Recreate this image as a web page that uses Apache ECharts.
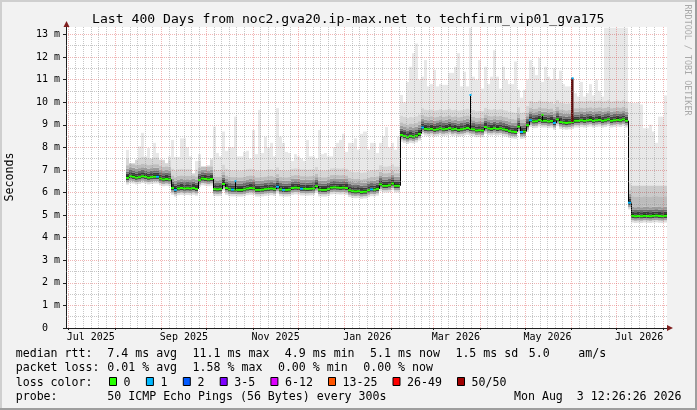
<!DOCTYPE html>
<html><head><meta charset="utf-8">
<script src="https://cdn.jsdelivr.net/npm/echarts@6/dist/echarts.min.js"></script>
<style>html,body{margin:0;padding:0;background:#f2f2f2}#c{width:697px;height:410px}</style>
</head><body><div id="c"></div>
<script>
// ---------- data ----------
const titleText = 'Last 400 Days from noc2.gva20.ip-max.net to techfirm_vip01_gva175';
const startUTC = Date.UTC(2025, 5, 29, 12, 26, 26);   // 400 days before Mon Aug 3 12:26:26 2026
const rangeDays = 400;
const binStartDay = 40;     // first sample bin (days after start)
const binDays = 2;          // bin width in days

// median rtt per 2-day bin (ms)
const medianMs = [
  6.65, 6.72, 6.70, 6.66, 6.68, 6.72, 6.70, 6.66, 6.68, 6.70,
  6.70, 6.62, 6.58, 6.60, 6.58, 6.20, 6.12, 6.18, 6.20, 6.18,
  6.19, 6.18, 6.20, 6.16, 6.55, 6.62, 6.60, 6.58, 6.60, 6.15,
  6.14, 6.15, 6.38, 6.20, 6.14, 6.13, 6.13, 6.12, 6.12, 6.14,
  6.18, 6.20, 6.19, 6.12, 6.12, 6.13, 6.15, 6.17, 6.18, 6.15,
  6.26, 6.14, 6.12, 6.12, 6.13, 6.20, 6.22, 6.21, 6.17, 6.17,
  6.16, 6.17, 6.18, 6.28, 6.13, 6.12, 6.12, 6.15, 6.22, 6.23,
  6.22, 6.21, 6.22, 6.20, 6.10, 6.06, 6.05, 6.06, 6.02, 6.04,
  6.10, 6.14, 6.13, 6.16, 6.36, 6.30, 6.30, 6.32, 6.40, 6.30,
  6.30, 8.55, 8.50, 8.45, 8.50, 8.48, 8.52, 8.60, 8.88, 8.82,
  8.80, 8.82, 8.78, 8.80, 8.84, 8.80, 8.82, 8.86, 8.80, 8.82,
  8.78, 8.80, 8.83, 8.86, 8.82, 8.80, 8.75, 8.76, 8.75, 8.90,
  8.84, 8.82, 8.85, 8.82, 8.84, 8.80, 8.78, 8.72, 8.70, 8.68,
  8.92, 8.68, 8.70, 8.98, 9.20, 9.15, 9.16, 9.22, 9.18, 9.18,
  9.15, 9.17, 9.08, 9.24, 9.12, 9.10, 9.08, 9.10, 9.12, 9.18,
  9.18, 9.20, 9.18, 9.20, 9.22, 9.18, 9.20, 9.22, 9.18, 9.20,
  9.24, 9.18, 9.20, 9.22, 9.20, 9.24, 9.18, 5.55, 4.97, 4.95,
  4.96, 4.95, 4.97, 4.96, 4.95, 4.97, 4.98, 4.96, 4.95, 4.97
];
// top of the ping smoke per bin (ms)
const smokeTopMs = [
  7.89, 7.30, 7.30, 7.45, 8.04, 8.64, 7.60, 7.97, 7.50, 8.20,
  7.75, 7.45, 7.45, 7.30, 7.60, 8.33, 7.58, 7.58, 8.40, 8.40,
  8.00, 7.60, 6.85, 7.40, 7.70, 7.15, 7.15, 7.20, 7.50, 8.92,
  7.75, 7.60, 8.70, 7.85, 8.00, 8.00, 9.36, 7.60, 7.60, 7.80,
  7.85, 7.50, 8.77, 7.70, 9.66, 7.75, 8.47, 8.00, 8.20, 7.60,
  9.74, 8.47, 8.20, 7.80, 7.75, 7.40, 7.70, 7.60, 7.50, 7.40,
  8.33, 7.60, 7.60, 7.50, 8.77, 7.70, 7.75, 7.60, 7.60, 8.00,
  8.20, 8.33, 8.60, 7.80, 8.20, 8.20, 8.40, 7.90, 8.60, 8.70,
  7.90, 8.20, 8.20, 7.75, 8.20, 8.48, 8.90, 8.00, 8.20, 7.90,
  8.48, 10.32, 10.00, 10.90, 11.57, 12.17, 12.60, 11.00, 11.13, 11.87,
  10.70, 10.80, 11.43, 10.70, 10.80, 10.77, 10.77, 11.30, 11.30, 11.57,
  12.17, 10.70, 11.35, 10.70, 13.30, 11.13, 11.00, 11.87, 10.60, 11.57,
  10.80, 11.13, 12.30, 11.13, 10.60, 11.57, 11.00, 10.80, 10.80, 11.80,
  10.55, 10.20, 10.55, 11.00, 11.87, 11.57, 11.20, 11.96, 10.90, 11.57,
  11.13, 11.00, 11.50, 11.00, 11.40, 10.80, 10.70, 10.70, 11.10, 10.40,
  10.25, 10.90, 10.25, 10.40, 10.80, 10.30, 11.00, 10.50, 10.25, 13.30,
  13.30, 13.30, 13.30, 13.30, 13.30, 13.30, 13.30, 10.00, 9.97, 9.97,
  10.00, 9.90, 8.85, 8.85, 9.00, 8.70, 8.20, 9.36, 9.36, 10.30
];
// bins where the denser (medium) smoke reaches higher: [firstBin, lastBin, topMs]
const denseSmokeSegments = [[168, 179, 6.30]];
// bins whose median was drawn with loss class "1"
const loss1Bins = [10, 16, 35, 50, 52, 58, 81, 98, 131, 134, 142, 167];
// short median spikes inside a bin
const spikeBins = [36, 114, 138, 148];
const spikeMs   = [6.50, 10.32, 9.44, 11.06];
const spikeDotLoss = [1, 1, 0, 1];
const spikeColLoss = [-1, -1, -1, 7];

const lossColors = ['#26ff00', '#00b8ff', '#0059ff', '#7e00ff', '#dd00ff', '#ff5500', '#ff0000', '#a00000'];
const lossLabels = ['0', '1', '2', '3-5', '6-12', '13-25', '26-49', '50/50'];

const xLabelMonths = [[2025, 6], [2025, 8], [2025, 10], [2026, 0], [2026, 2], [2026, 4], [2026, 6]];
const xLabelTexts  = ['Jul 2025', 'Sep 2025', 'Nov 2025', 'Jan 2026', 'Mar 2026', 'May 2026', 'Jul 2026'];

const statLine1 = [['median rtt:', 15.7], ['7.4 ms avg', 107.3], ['11.1 ms max', 192.6], ['4.9 ms min', 284.8], ['5.1 ms now', 370.1], ['1.5 ms sd', 455.4], ['5.0', 528.8], ['am/s', 578.3]];
const statLine2 = [['packet loss:', 15.7], ['0.01 % avg', 107.3], ['1.58 % max', 192.6], ['0.00 % min', 277.9], ['0.00 % now', 363.2]];
const probeText = '50 ICMP Echo Pings (56 Bytes) every 300s';
const dateText = 'Mon Aug  3 12:26:26 2026';

// ---------- derived helpers ----------
const MONO = 'DejaVu Sans Mono';
const DAY = 864e5;
const dayOf = (y, m, d) => (Date.UTC(y, m, d) - startUTC) / DAY;
const monthDays = [];
const minorDays = [];
for (let k = 0; k <= 14; k++) {
  const d = dayOf(2025, 5 + k, 1);
  if (d > 0 && d < rangeDays) monthDays.push(d);
  for (const dd of [6, 11, 16, 21, 26]) {
    const e = dayOf(2025, 5 + k, dd);
    if (e > 0 && e < rangeDays) minorDays.push(e);
  }
}
const labelDays = xLabelMonths.map(([y, m]) => dayOf(y, m, 16));
const lossClass = medianMs.map((_, i) => loss1Bins.includes(i) ? 1 : 0);
const denseTop = medianMs.map((_, i) => { const s = denseSmokeSegments.find(([a, b]) => i >= a && i <= b); return s ? s[2] : -1; });
const binData = medianMs.map((m, i) => [binStartDay + binDays * i, m, smokeTopMs[i], lossClass[i], i > 0 ? medianMs[i - 1] : -1, spikeBins.indexOf(i), denseTop[i]]);

const GRID_C = 'rgba(143,143,143,0.5)';
const MGRID_C = 'rgba(222,79,79,0.42)';

const smokeBands = [
  [-0.30, -0.20, '#dedede'],
  [-0.20, -0.10, '#a4a4a4'],
  [-0.10, 0.00, '#444444'],
  [0.00, 0.08, '#141414'],
  [0.08, 0.18, '#3c3c3c'],
  [0.18, 0.28, '#6c6c6c'],
  [0.28, 0.40, '#9c9c9c'],
  [0.40, 0.55, '#bebebe'],
  [0.55, 0.85, 'rgba(0,0,0,0.16)'],
  [0.85, 99, 'rgba(0,0,0,0.09)']
];

function renderSmoke(params, api) {
  const d0 = api.value(0), med = api.value(1), hi = api.value(2), dense = api.value(6);
  const x0 = Math.round(api.coord([d0, 0])[0]);
  const x1 = Math.round(api.coord([d0 + binDays, 0])[0]);
  const Y = v => api.coord([d0, v])[1];
  const children = [];
  const rect = (lo, top, col) => {
    if (top <= lo) return;
    const yt = Y(top), yb = Y(lo);
    children.push({ type: 'rect', shape: { x: x0, y: yt, width: x1 - x0, height: yb - yt }, style: { fill: col } });
  };
  for (const [a, b, col] of smokeBands) {
    let top = med + b;
    if (a >= 0) top = Math.min(top, hi);
    rect(med + a, top, col);
  }
  if (dense > 0) rect(med + 0.55, Math.min(dense, hi), 'rgba(0,0,0,0.12)');
  return { type: 'group', children };
}

function renderMedian(params, api) {
  const d0 = api.value(0), med = api.value(1), loss = api.value(3), prev = api.value(4), sp = api.value(5);
  const x0 = Math.round(api.coord([d0, 0])[0]);
  const x1 = Math.round(api.coord([d0 + binDays, 0])[0]);
  const Y = v => api.coord([d0, v])[1];
  const y = Y(med);
  const children = [];
  if (prev > 0 && Math.abs(prev - med) > 0.03) {
    children.push({ type: 'line', shape: { x1: x0 + 0.5, y1: Y(prev), x2: x0 + 0.5, y2: y }, style: { stroke: '#000', lineWidth: 1 } });
  }
  children.push({ type: 'rect', shape: { x: x0, y: y - 1, width: x1 - x0, height: 2 }, style: { fill: lossColors[loss] } });
  if (sp >= 0) {
    const ys = Y(spikeMs[sp]);
    const xc = x0 + 1;
    if (spikeColLoss[sp] >= 0) {
      children.push({ type: 'rect', shape: { x: xc - 1, y: ys, width: 2.5, height: y - ys }, style: { fill: '#5c1212' } });
    } else {
      children.push({ type: 'line', shape: { x1: xc + 0.5, y1: y, x2: xc + 0.5, y2: ys }, style: { stroke: '#000', lineWidth: 1 } });
    }
    children.push({ type: 'rect', shape: { x: xc - 0.5, y: ys - 1, width: 2, height: 2 }, style: { fill: lossColors[spikeDotLoss[sp]] } });
  }
  return { type: 'group', children };
}

// ---------- chart ----------
const chart = echarts.init(document.getElementById('c'), null, { renderer: 'canvas' });

const T = (x, y, text, extra) => ({ type: 'text', x, y, silent: true, style: Object.assign({ text, fontFamily: MONO, fontSize: 11.6, fill: '#000', align: 'left', verticalAlign: 'middle' }, extra || {}) });

const graphics = [
  { type: 'rect', shape: { x: 0, y: 0, width: 697, height: 2 }, style: { fill: '#cfcfcf' }, silent: true },
  { type: 'rect', shape: { x: 0, y: 0, width: 2, height: 410 }, style: { fill: '#cfcfcf' }, silent: true },
  { type: 'rect', shape: { x: 0, y: 408, width: 697, height: 2 }, style: { fill: '#9e9e9e' }, silent: true },
  { type: 'rect', shape: { x: 695, y: 0, width: 2, height: 410 }, style: { fill: '#9e9e9e' }, silent: true },
  { type: 'polygon', shape: { points: [[63.5, 27], [69.5, 27], [66.5, 21]] }, style: { fill: '#801f1f' }, silent: true, z: 100 },
  { type: 'polygon', shape: { points: [[667, 325], [667, 331], [673, 328]] }, style: { fill: '#801f1f' }, silent: true, z: 100 },
  T(348.3, 19.5, titleText, { fontSize: 13.1, align: 'center' }),
  { type: 'text', x: 10, y: 177, rotation: Math.PI / 2, silent: true, style: { text: 'Seconds', fontFamily: MONO, fontSize: 11.6, fill: '#000', align: 'center', verticalAlign: 'middle' } },
  { type: 'text', x: 687, y: 60, rotation: -Math.PI / 2, silent: true, style: { text: 'RRDTOOL / TOBI OETIKER', fontFamily: MONO, fontSize: 8.4, fill: '#a9a9a9', align: 'center', verticalAlign: 'middle' } }
];
statLine1.forEach(([t, x]) => graphics.push(T(x, 354, t)));
statLine2.forEach(([t, x]) => graphics.push(T(x, 368.3, t)));
graphics.push(T(15.7, 382.6, 'loss color:'));
let bx = 109;
lossLabels.forEach((lab, k) => {
  graphics.push({ type: 'rect', shape: { x: bx + 0.5, y: 377.5, width: 7, height: 8 }, style: { fill: lossColors[k], stroke: '#000', lineWidth: 1 }, silent: true });
  graphics.push(T(bx + 14.6, 382.6, lab));
  bx += 30 + 6.9 * lab.length;
});
graphics.push(T(15.7, 397, 'probe:'));
graphics.push(T(107.3, 397, probeText));
graphics.push(T(681.5, 397, dateText, { align: 'right' }));

const option = {
  animation: false,
  backgroundColor: '#f2f2f2',
  grid: { left: 66, right: 30, top: 27, bottom: 82, show: true, backgroundColor: '#ffffff', borderWidth: 0 },
  xAxis: {
    type: 'value', min: 0, max: rangeDays,
    axisLine: { show: true, onZero: false, lineStyle: { color: '#1f1f1f', width: 1 } },
    axisTick: { show: true, customValues: monthDays, length: 2, lineStyle: { color: '#1f1f1f' } },
    axisLabel: {
      customValues: labelDays, fontFamily: MONO, fontSize: 10, color: '#000', margin: 4,
      formatter: v => { let best = 0; labelDays.forEach((d, k) => { if (Math.abs(d - v) < Math.abs(labelDays[best] - v)) best = k; }); return xLabelTexts[best]; }
    },
    splitLine: { show: false }
  },
  yAxis: {
    type: 'value', min: 0, max: 13.33, interval: 1,
    axisLine: { show: true, lineStyle: { color: '#1f1f1f', width: 1 } },
    axisTick: { show: true, length: 3, lineStyle: { color: '#1f1f1f' } },
    axisLabel: { showMaxLabel: false, fontFamily: MONO, fontSize: 10, color: '#000', margin: 6, formatter: v => v === 0 ? '0  ' : v + ' m' },
    splitLine: { show: true, showMaxLine: false, showMinLine: false, lineStyle: { color: MGRID_C, type: [1, 1], width: 1 } },
    minorSplitLine: { show: false }
  },
  graphic: graphics,
  series: [
    {
      type: 'line', data: [], silent: true, z: 1,
      markLine: {
        silent: true, symbol: ['none', 'none'], label: { show: false }, animation: false,
        emphasis: { disabled: true },
        data: [
          ...minorDays.map(d => ({ xAxis: d, lineStyle: { color: GRID_C, type: [1, 1], width: 1 } })),
          ...[0.5, 1.5, 2.5, 3.5, 4.5, 5.5, 6.5, 7.5, 8.5, 9.5, 10.5, 11.5, 12.5].map(v => ({ yAxis: v, lineStyle: { color: GRID_C, type: [1, 1], width: 1 } })),
          ...monthDays.map(d => ({ xAxis: d, lineStyle: { color: MGRID_C, type: [1, 1], width: 1 } }))
        ]
      }
    },
    { type: 'custom', name: 'smoke', data: binData, encode: { x: 0, y: 1 }, renderItem: renderSmoke, clip: true, silent: true, z: 2 },
    { type: 'custom', name: 'median', data: binData, encode: { x: 0, y: 1 }, renderItem: renderMedian, clip: true, silent: true, z: 3 }
  ]
};
chart.setOption(option);
</script>
</body></html>
